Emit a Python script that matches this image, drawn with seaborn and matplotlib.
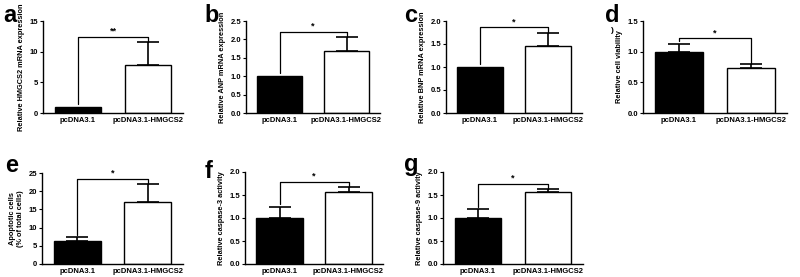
import matplotlib as mtl
mtl.use('Agg')
import matplotlib.pyplot as plt
import numpy as np
import pandas as pd
import seaborn as sns

groups = ["pcDNA3.1", "pcDNA3.1-HMGCS2"]

# mean values per panel (control, HMGCS2)
hmgcs2_mrna = [1.0, 7.8]
anp_mrna = [1.0, 1.68]
bnp_mrna = [1.0, 1.45]
viability = [1.0, 0.73]
apoptotic = [6.4, 17.0]
casp3 = [1.0, 1.57]
casp9 = [1.0, 1.56]

# upper error (SD), 0 = no bar drawn
hmgcs2_err = [0.0, 3.7]
anp_err = [0.0, 0.38]
bnp_err = [0.0, 0.29]
viability_err = [0.13, 0.07]
apoptotic_err = [0.9, 4.9]
casp3_err = [0.25, 0.10]
casp9_err = [0.19, 0.07]

stars = ["**", "*", "*", "*", "*", "*", "*"]
letters = ["a", "b", "c", "d", "e", "f", "g"]
ylabels = ["Relative HMGCS2 mRNA expression",
           "Relative ANP mRNA expression",
           "Relative BNP mRNA expression",
           "Relative cell viability",
           "Apoptotic cells\n(% of total cells)",
           "Relative caspase-3 activity",
           "Relative caspase-9 activity"]
yticks = [[0, 5, 10, 15],
          [0.0, 0.5, 1.0, 1.5, 2.0, 2.5],
          [0.0, 0.5, 1.0, 1.5, 2.0],
          [0.0, 0.5, 1.0, 1.5],
          [0, 5, 10, 15, 20, 25],
          [0.0, 0.5, 1.0, 1.5, 2.0],
          [0.0, 0.5, 1.0, 1.5, 2.0]]

means = [hmgcs2_mrna, anp_mrna, bnp_mrna, viability, apoptotic, casp3, casp9]
errs = [hmgcs2_err, anp_err, bnp_err, viability_err, apoptotic_err, casp3_err, casp9_err]

sns.set_style("ticks")
plt.rcParams['font.family'] = ['Liberation Sans', 'DejaVu Sans']
plt.rcParams['font.weight'] = 'bold'
plt.rcParams['text.color'] = 'black'
plt.rcParams['axes.labelcolor'] = 'black'
plt.rcParams['xtick.color'] = 'black'
plt.rcParams['ytick.color'] = 'black'
plt.rcParams['axes.edgecolor'] = 'black'

fig = plt.figure(figsize=(8, 2.77), dpi=100)
W, H = 800.0, 277.0

# axes boxes in pixels: left, right, top, bottom
boxes = [(43, 183, 21, 113), (246, 380, 21, 113), (446, 582, 21, 113), (643, 787, 21, 113),
         (42, 183, 173, 264), (245, 383, 172, 264), (443, 583, 172, 264)]
letter_pos = [(3, 15), (204, 15), (404, 15), (605, 15), (5, 166), (205, 171), (404, 164)]

for i in range(7):
    l, r, t, b = boxes[i]
    ax = fig.add_axes([l / W, (H - b) / H, (r - l) / W, (b - t) / H])
    df = pd.DataFrame({"group": groups, "value": means[i]})
    sns.barplot(data=df, x="group", y="value", hue="group", palette=["black", "white"],
                edgecolor="black", linewidth=1.0, width=0.67, legend=False, ax=ax)
    for k in range(2):
        if errs[i][k] > 0:
            ax.errorbar([k], [means[i][k]], yerr=[[0], [errs[i][k]]], fmt="none",
                        ecolor="black", elinewidth=1.2, capsize=8, capthick=1.2)
    ytop = yticks[i][-1]
    ax.set_ylim(0, ytop)
    ax.set_xlim(-0.5, 1.5)
    ax.set_yticks(yticks[i])
    if isinstance(yticks[i][1], float):
        ax.set_yticklabels(["%.1f" % v for v in yticks[i]])
    ax.tick_params(axis="y", labelsize=5.5, length=2.5, width=0.8, pad=1)
    ax.tick_params(axis="x", labelsize=5.5, length=0, pad=3)
    for lab in ax.get_xticklabels() + ax.get_yticklabels():
        lab.set_fontweight("bold")
    ax.set_xlabel("")
    ax.set_ylabel(ylabels[i], fontsize=5.3, fontweight="bold", labelpad=3)
    sns.despine(ax=ax)
    for sp in ["left", "bottom"]:
        ax.spines[sp].set_linewidth(1.0)

    # significance bracket
    top1 = means[i][0] + errs[i][0]
    top2 = means[i][1] + errs[i][1]
    yb = max(top1, top2) + 0.06 * ytop
    ax.plot([0, 0, 1, 1], [top1 + 0.03 * ytop, yb, yb, top2], color="black", lw=0.9,
            clip_on=False)
    ax.text(0.5, yb + 0.01 * ytop, stars[i], ha="center", va="bottom", fontsize=6.5,
            fontweight="bold")

    lx, ly = letter_pos[i]
    fig.text(lx / W, 1 - ly / H, letters[i], fontsize=17, fontweight="bold",
             ha="left", va="center")

fig.text(612 / W, 1 - 31 / H, ")", fontsize=6, fontweight="bold", ha="center", va="center")

fig.savefig("out.png", dpi=100)
